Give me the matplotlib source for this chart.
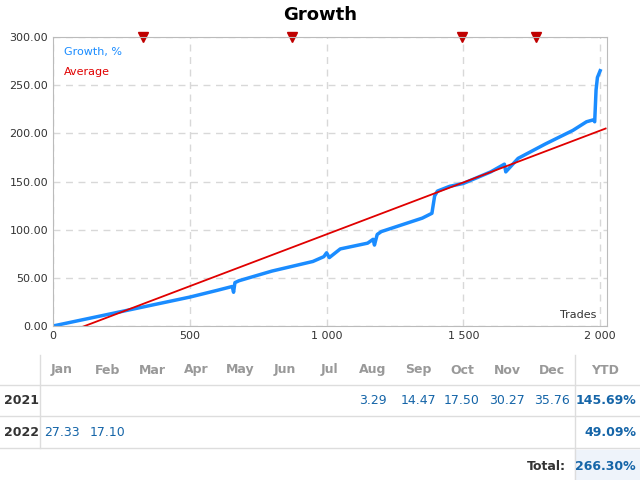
import matplotlib
matplotlib.use("Agg")
import matplotlib.pyplot as plt
from matplotlib.lines import Line2D

trades = [0, 100, 200, 300, 400, 500, 600, 655, 660, 665, 680, 800, 950, 990, 1000, 1010, 1050, 1150, 1170, 1175, 1185, 1200, 1350, 1385, 1395, 1405, 1450, 1500, 1600, 1650, 1655, 1700, 1800, 1900, 1950, 1975, 1980, 1985, 1990, 2000]
growth = [0, 6, 12, 18, 24, 30, 37, 41, 35, 45, 47, 57, 67, 72, 76, 71, 80, 86, 90, 84, 95, 98, 112, 117, 135, 140, 145, 148, 160, 168, 160, 174, 189, 203, 212, 214, 212, 245, 258, 265]
avg_x = [0, 2020]
avg_y = [-12.5, 205]
markers_x = [330, 875, 1495, 1765]
months = ["Jan","Feb","Mar","Apr","May","Jun","Jul","Aug","Sep","Oct","Nov","Dec"]
years = ["2021", "2022"]
vals = {"2021": ["","","","","","","","3.29","14.47","17.50","30.27","35.76"],
        "2022": ["27.33","17.10","","","","","","","","","",""]}
ytd = {"2021": "145.69%", "2022": "49.09%"}
total = "266.30%"

plt.rcParams['font.family'] = ['DejaVu Sans']
fig = plt.figure(figsize=(6.4, 4.8), dpi=100)
W, H = 640, 480
ax = fig.add_axes([53/W, 1-326/H, (607-53)/W, (326-37)/H])
ax.plot(trades, growth, color="#1a8cff", lw=2.5)
ax.plot(avg_x, avg_y, color="#e00000", lw=1.3)
ax.plot(markers_x, [300]*4, "v", color="#c00000", ms=7, clip_on=False)
ax.set_xlim(0, 2025); ax.set_ylim(0, 300)
ax.set_xticks([0, 500, 1000, 1500, 2000], ["0", "500", "1 000", "1 500", "2 000"])
ax.set_yticks(range(0, 301, 50), [f"{v:.2f}" for v in range(0, 301, 50)])
ax.tick_params(labelsize=8, length=0, colors="#333333")
ax.grid(True, ls=(0, (5, 4)), color="#d8d8d8", lw=1)
for s in ax.spines.values():
    s.set_color("#bbbbbb")
ax.text(0.02, 0.965, "Growth, %", color="#1a8cff", fontsize=8, transform=ax.transAxes, va="top")
ax.text(0.02, 0.895, "Average", color="#e00000", fontsize=8, transform=ax.transAxes, va="top")
ax.text(0.98, 0.02, "Trades", color="#333333", fontsize=8, transform=ax.transAxes, ha="right", va="bottom")
fig.text(0.5, 1-15/H, "Growth", ha="center", va="center", fontsize=13, fontweight="bold")

def fx(px): return px/W
def fy(py): return 1-py/H
xs = [62, 108, 152, 196, 240, 285, 329, 373, 418, 462, 507, 552]
fig.patches.append(plt.Rectangle((fx(575), 0), fx(65), fy(450), color="#eef3fa", transform=fig.transFigure))
for m, x in zip(months, xs):
    fig.text(fx(x), fy(370), m, ha="center", va="center", fontsize=9, color="#999999", fontweight="bold")
fig.text(fx(605), fy(370), "YTD", ha="center", va="center", fontsize=9, color="#999999", fontweight="bold")
for yr, y in zip(years, [400, 432]):
    fig.text(fx(4), fy(y), yr, ha="left", va="center", fontsize=9, color="#333333", fontweight="bold")
    for v, x in zip(vals[yr], xs):
        if v:
            fig.text(fx(x), fy(y), v, ha="center", va="center", fontsize=9, color="#1565a8")
    fig.text(fx(636), fy(y), ytd[yr], ha="right", va="center", fontsize=9, color="#1565a8", fontweight="bold")
fig.text(fx(566), fy(466), "Total:", ha="right", va="center", fontsize=9, color="#333333", fontweight="bold")
fig.text(fx(636), fy(466), total, ha="right", va="center", fontsize=9, color="#1565a8", fontweight="bold")
for y in [385, 416, 448]:
    fig.add_artist(Line2D([0, 1], [fy(y), fy(y)], color="#dddddd", lw=1))
fig.add_artist(Line2D([fx(40), fx(40)], [fy(448), fy(355)], color="#dddddd", lw=1))
fig.add_artist(Line2D([fx(575), fx(575)], [0, fy(355)], color="#dddddd", lw=1))
fig.savefig("out.png", dpi=100)
